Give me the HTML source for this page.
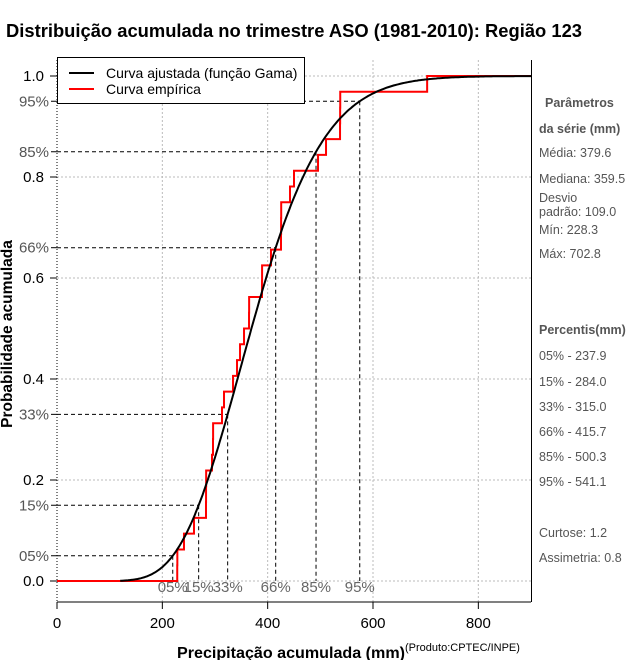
<!DOCTYPE html>
<html><head><meta charset="utf-8"><style>
body{margin:0;background:#fff;}
svg{display:block;font-family:"Liberation Sans",sans-serif;}
</style></head><body>
<svg id="chart" width="640" height="660" xmlns="http://www.w3.org/2000/svg">
<text x="6" y="37" font-size="18.5" font-weight="bold" fill="#000" textLength="576" lengthAdjust="spacingAndGlyphs">Distribuição acumulada no trimestre ASO (1981-2010): Região 123</text>
<g id="grid"></g>
<g id="plot"></g>
<g id="axes"></g>
<text x="177" y="658" font-size="15.5" font-weight="bold" textLength="228" lengthAdjust="spacingAndGlyphs">Precipitação acumulada (mm)</text>
<text x="405" y="651" font-size="11" fill="#000">(Produto:CPTEC/INPE)</text>
<text transform="translate(12,334) rotate(-90)" font-size="15.5" font-weight="bold" text-anchor="middle">Probabilidade acumulada</text>
<g>
<rect x="57.5" y="57.5" width="247" height="46" fill="#fff" stroke="#000"/>
<line x1="69" y1="73" x2="94" y2="73" stroke="#000" stroke-width="2"/>
<text x="106" y="78" font-size="14">Curva ajustada (função Gama)</text>
<line x1="69" y1="89" x2="94" y2="89" stroke="#f00" stroke-width="2"/>
<text x="106" y="94" font-size="14">Curva empírica</text>
</g>
<g font-size="12.5" fill="#555">
<text x="545" y="107" font-weight="bold">Parâmetros</text>
<text x="539" y="133" font-weight="bold">da série (mm)</text>
<text x="539" y="157">Média: 379.6</text>
<text x="539" y="183">Mediana: 359.5</text>
<text x="539" y="202">Desvio</text>
<text x="539" y="216">padrão: 109.0</text>
<text x="539" y="234">Mín: 228.3</text>
<text x="539" y="258">Máx: 702.8</text>
<text x="539" y="334" font-weight="bold">Percentis(mm)</text>
<text x="539" y="360">05% - 237.9</text>
<text x="539" y="386">15% - 284.0</text>
<text x="539" y="411">33% - 315.0</text>
<text x="539" y="436">66% - 415.7</text>
<text x="539" y="461">85% - 500.3</text>
<text x="539" y="486">95% - 541.1</text>
<text x="539" y="537">Curtose: 1.2</text>
<text x="539" y="562">Assimetria: 0.8</text>
</g>
</svg>
<script>
const sampleValues=[228.3,228.5,241.1,260.1,282.9,283.0,283.2,294.3,296.2,296.4,313.3,317.1,334.2,341.8,347.5,355.1,364.6,364.8,389.2,389.4,406.3,425.3,425.5,425.7,442.4,450.0,495.6,510.8,537.4,537.6,537.8,702.8];
const gammaMean=379.6;
const gammaSd=109.0;
const percentLevels=[0.05,0.15,0.33,0.66,0.85,0.95];
const percentLabels=["05%","15%","33%","66%","85%","95%"];
const xTicks=[0,200,400,600,800];
const yTicks=[0,0.2,0.4,0.6,0.8,1.0];
const yTickLabels=["0.0","0.2","0.4","0.6","0.8","1.0"];

const NS="http://www.w3.org/2000/svg";
const X0=57,XR=0.52667,Y0=581,YH=505;
function sx(v){return X0+v*XR;}
function sy(p){return Y0-p*YH;}
function mk(tag,attrs,parent){const e=document.createElementNS(NS,tag);for(const k in attrs)e.setAttribute(k,attrs[k]);parent.appendChild(e);return e;}
const grid=document.getElementById('grid'),plot=document.getElementById('plot'),axes=document.getElementById('axes');

const shape=(gammaMean/gammaSd)**2, scale=gammaSd*gammaSd/gammaMean;
function lgamma(z){const g=7,c=[0.99999999999980993,676.5203681218851,-1259.1392167224028,771.32342877765313,-176.61502916214059,12.507343278686905,-0.13857109526572012,9.9843695780195716e-6,1.5056327351493116e-7];z-=1;let x=c[0];for(let i=1;i<9;i++)x+=c[i]/(z+i);const t=z+g+0.5;return 0.5*Math.log(2*Math.PI)+(z+0.5)*Math.log(t)-t+Math.log(x);}
function gcdf(v){if(v<=0)return 0;const x=v/scale;let sum=1/shape,term=sum;for(let n=1;n<500;n++){term*=x/(shape+n);sum+=term;if(term<sum*1e-12)break;}return Math.min(1,Math.exp(-x+shape*Math.log(x)-lgamma(shape))*sum);}
function gq(p){let lo=0,hi=2000;for(let i=0;i<60;i++){const m=(lo+hi)/2;if(gcdf(m)<p)lo=m;else hi=m;}return (lo+hi)/2;}

xTicks.forEach(t=>{if(t===0)return;const l=mk('line',{x1:sx(t),x2:sx(t),y1:60,y2:602,stroke:'#bbb','stroke-dasharray':'2,2'},grid);

});
yTicks.forEach(t=>{const l=mk('line',{x1:57,x2:531,y1:sy(t),y2:sy(t),stroke:'#bbb','stroke-dasharray':'2,2'},grid);

});

percentLevels.forEach((p,i)=>{const q=gq(p);
const h=mk('line',{x1:57,x2:sx(q),y1:sy(p),y2:sy(p),stroke:'#000','stroke-dasharray':'4,3'},plot);


const v=mk('line',{x1:sx(q),x2:sx(q),y1:sy(p),y2:Y0,stroke:'#000','stroke-dasharray':'4,3'},plot);


const tl=mk('text',{x:sx(q),y:592,'font-size':15,fill:'#666','text-anchor':'middle'},plot);tl.textContent=percentLabels[i];


const yl=mk('text',{x:49,y:sy(p)+5,'font-size':15,fill:'#555','text-anchor':'end'},axes);yl.textContent=percentLabels[i];


const tk=mk('line',{x1:51,x2:57,y1:sy(p),y2:sy(p),stroke:'#000'},axes);

});

const s=[...sampleValues].sort((a,b)=>a-b),n=s.length;
let d=`M${sx(0)},${sy(0)}`;
s.forEach((v,i)=>{d+=` L${sx(v)},${sy(i/n)} L${sx(v)},${sy((i+1)/n)}`;});
d+=` L${sx(900)},${sy(1)}`;
const emp=mk('path',{d:d,fill:'none',stroke:'#f00','stroke-width':2},plot);



let gd='';for(let v=120;v<=900;v+=3){gd+=(gd?' L':'M')+sx(v).toFixed(1)+','+sy(gcdf(v)).toFixed(1);}
const gp=mk('path',{d:gd,fill:'none',stroke:'#000','stroke-width':2},plot);



const xa=mk('line',{x1:57,x2:531,y1:602,y2:602,stroke:'#000'},axes);


const ya=mk('line',{x1:57,x2:57,y1:60,y2:602,stroke:'#000','stroke-dasharray':'1,2'},axes);


const rb=mk('line',{x1:531.5,x2:531.5,y1:60,y2:602,stroke:'#000'},axes);


xTicks.forEach(t=>{const tk=mk('line',{x1:sx(t),x2:sx(t),y1:602,y2:609,stroke:'#000'},axes);


const tl=mk('text',{x:sx(t),y:628,'font-size':15,'text-anchor':'middle'},axes);tl.textContent=t;

});
yTicks.forEach((t,i)=>{const tk=mk('line',{x1:50,x2:57,y1:sy(t),y2:sy(t),stroke:'#000'},axes);


const tl=mk('text',{x:44,y:sy(t)+5,'font-size':15,'text-anchor':'end'},axes);tl.textContent=yTickLabels[i];

});
</script>
</body></html>
